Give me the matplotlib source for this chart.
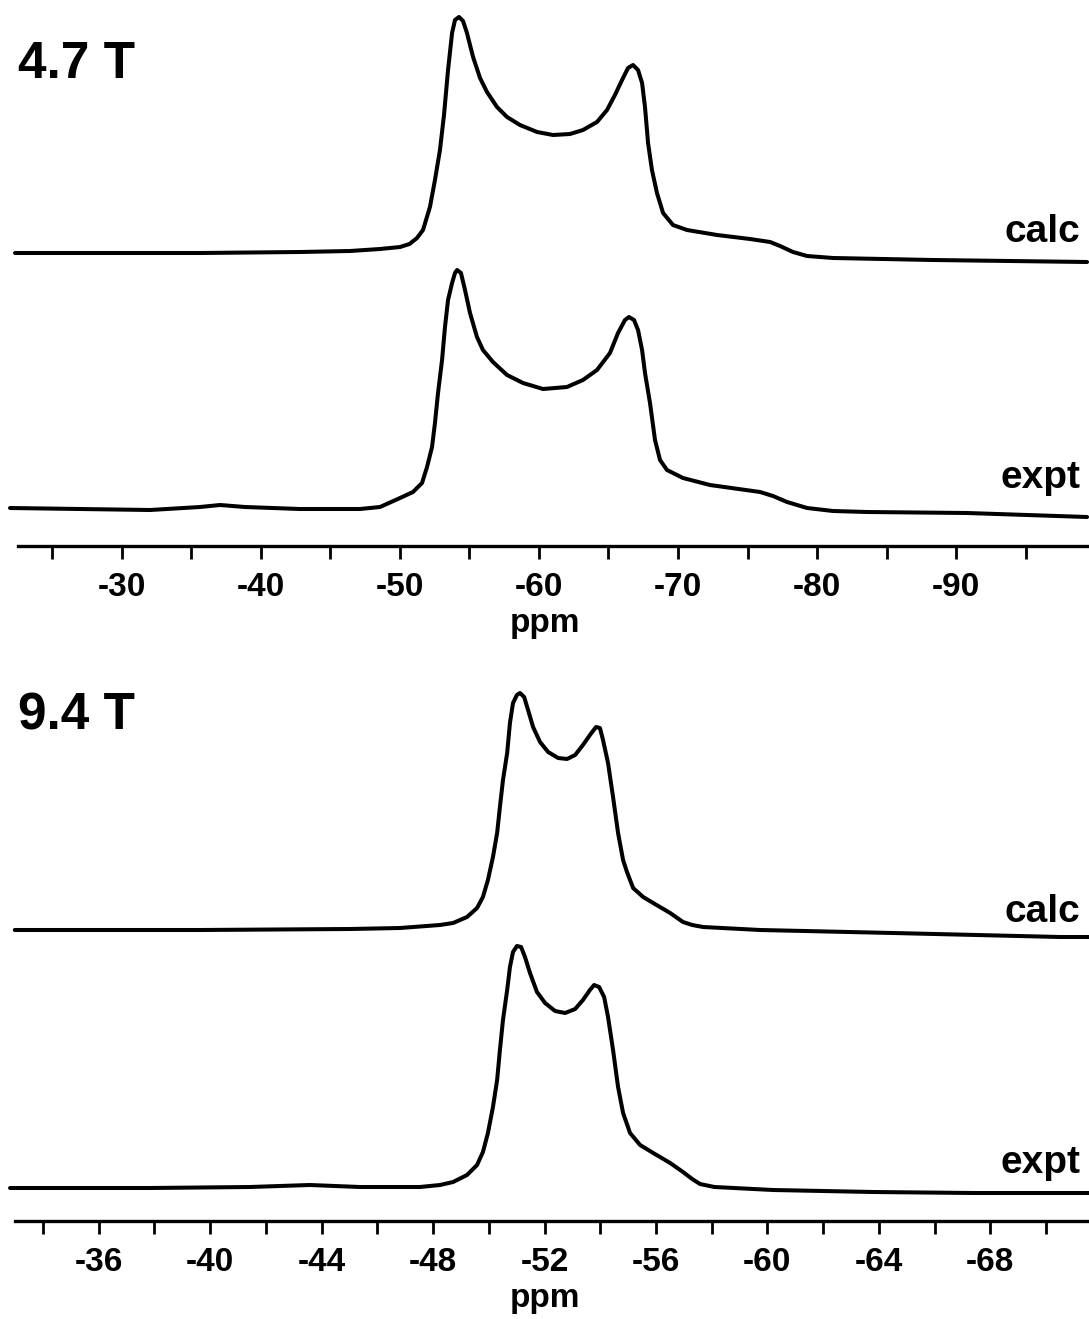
import matplotlib
matplotlib.use("Agg")
import matplotlib.pyplot as plt
import numpy as np

# ---------------- data ----------------
# 4.7 T panel: chemical shift (ppm) and intensity (arbitrary units)
ppm_47_calc = [-22.34, -35.64, -42.83, -46.42, -48.58, -50.02, -50.70, -51.24, -51.67, -52.17,
               -52.53, -52.89, -53.18, -53.47, -53.76, -53.97, -54.26, -54.55, -54.83,
               -55.27, -55.77, -56.27, -56.99, -57.71, -58.64, -59.87, -61.02, -62.24,
               -63.17, -64.18, -64.90, -65.47, -65.98, -66.41, -66.77, -67.13, -67.42,
               -67.63, -67.85, -68.13, -68.49, -68.93, -69.64, -70.65, -72.81, -75.18,
               -76.62, -77.34, -78.27, -79.28, -81.15, -88.34, -99.41]
int_47_calc = [0, 0, 1, 2, 4, 6, 9, 15, 23, 46,
               73, 103, 138, 183, 220, 233, 236, 232, 220,
               196, 175, 161, 146, 136, 128, 121, 118, 119,
               123, 131, 143, 158, 173, 185, 188, 183, 170,
               146, 110, 83, 60, 40, 28, 23, 18, 14,
               11, 7, 1, -3, -5, -7, -9]

ppm_47_expt = [-21.98, -32.05, -35.64, -37.08, -38.87, -42.83, -47.14, -48.58, -50.02,
               -50.95, -51.60, -51.96, -52.32, -52.53, -52.75, -53.04, -53.25, -53.47,
               -53.76, -53.97, -54.12, -54.40, -54.69, -55.05, -55.55, -55.98, -56.70,
               -57.71, -58.86, -60.30, -62.02, -63.17, -64.18, -65.11, -65.69, -66.19,
               -66.48, -66.84, -67.13, -67.42, -67.63, -67.99, -68.35, -68.71, -69.21,
               -70.36, -72.30, -75.90, -76.83, -77.84, -79.28, -81.15, -83.59, -90.78,
               -99.41]
int_47_expt = [0, -2, 1, 3, 1, -1, -1, 1, 10,
               16, 25, 41, 61, 85, 115, 148, 181, 208,
               225, 235, 238, 235, 218, 195, 171, 158, 146,
               133, 125, 119, 121, 128, 138, 155, 175, 188,
               191, 188, 178, 158, 135, 105, 68, 48, 38,
               30, 23, 16, 12, 6, 0, -3, -4, -5,
               -9]

# 9.4 T panel
ppm_94_calc = [-32.99, -39.64, -45.02, -46.81, -48.25, -48.72, -49.22, -49.58, -49.79,
               -49.97, -50.15, -50.30, -50.40, -50.51, -50.66, -50.76, -50.87, -51.01,
               -51.12, -51.27, -51.41, -51.59, -51.84, -52.13, -52.49, -52.81, -53.10,
               -53.38, -53.63, -53.85, -53.99, -54.10, -54.28, -54.46, -54.64, -54.82,
               -54.96, -55.18, -55.54, -55.90, -56.51, -56.97, -57.30, -57.69, -59.74, -64.51,
               -70.50, -71.54]
int_94_calc = [0, 0, 1, 2, 5, 7, 13, 22, 33,
               50, 73, 97, 123, 150, 177, 207, 227, 235,
               237, 233, 220, 203, 188, 178, 172, 171, 175,
               185, 195, 203, 202, 190, 167, 133, 97, 70,
               58, 42, 33, 27, 17, 8, 5, 3, 0, -3,
               -7, -7]

ppm_94_expt = [-32.82, -37.84, -41.43, -43.58, -45.38, -47.53, -48.25, -48.72, -49.22,
               -49.58, -49.79, -49.97, -50.15, -50.30, -50.40, -50.51, -50.66, -50.76,
               -50.87, -51.01, -51.16, -51.30, -51.48, -51.73, -52.02, -52.38, -52.74,
               -53.10, -53.38, -53.63, -53.78, -53.96, -54.14, -54.28, -54.46, -54.64,
               -54.82, -55.07, -55.43, -55.90, -56.51, -56.97, -57.30, -57.58, -58.10,
               -60.20, -63.79, -67.38, -71.54]
int_94_expt = [0, 0, 1, 3, 1, 1, 3, 6, 13,
               23, 36, 55, 81, 108, 138, 168, 198, 221,
               236, 242, 241, 231, 215, 196, 185, 177, 175,
               179, 188, 198, 203, 201, 191, 171, 138, 101,
               75, 55, 43, 35, 25, 16, 9, 4, 1,
               -2, -4, -5, -5]

ticks_47 = [-25, -30, -35, -40, -45, -50, -55, -60, -65, -70, -75, -80, -85, -90, -95]
labels_47 = ["", "-30", "", "-40", "", "-50", "", "-60", "", "-70", "", "-80", "", "-90", ""]
ticks_94 = [-34, -36, -38, -40, -42, -44, -46, -48, -50, -52, -54, -56, -58, -60,
            -62, -64, -66, -68, -70]
labels_94 = ["", "-36", "", "-40", "", "-44", "", "-48", "", "-52", "", "-56", "", "-60",
             "", "-64", "", "-68", ""]

# ---------------- style / layout ----------------
W, H = 1089, 1319
BOLD = ["Liberation Sans", "DejaVu Sans"]
LW = 2.9

fig = plt.figure(figsize=(W / 100, H / 100), dpi=100)
fig.patch.set_facecolor("white")


def panel(axis_px, top_px, xlim, spine_left, ticks, labels, traces, title, title_base):
    ax = fig.add_axes([0, 1 - axis_px / H, 1, (axis_px - top_px) / H])
    ax.set_xlim(*xlim)
    ax.set_ylim(0, axis_px - top_px)
    for s in ["top", "left", "right"]:
        ax.spines[s].set_visible(False)
    ax.spines["bottom"].set_linewidth(2.4)
    ax.spines["bottom"].set_bounds(spine_left, xlim[1])
    ax.set_yticks([])
    ax.set_xticks(ticks)
    ax.set_xticklabels(labels, fontfamily=BOLD, fontweight="bold", fontsize=24)
    ax.tick_params(axis="x", direction="out", length=9, width=2.0, pad=10)
    ax.set_xlabel("ppm", fontfamily=BOLD, fontweight="bold", fontsize=24, labelpad=3)
    for x, y, off, name, base_px in traces:
        ax.plot(x, np.asarray(y) + off, color="black", lw=LW,
                solid_joinstyle="round", solid_capstyle="round")
        fig.text(1080 / W, 1 - base_px / H, name, ha="right", va="baseline",
                 fontfamily=BOLD, fontweight="bold", fontsize=28)
    fig.text(18 / W, 1 - title_base / H, title, ha="left", va="baseline",
             fontfamily=BOLD, fontweight="bold", fontsize=37)
    return ax


panel(546, 0, (-21.26, -99.55), -22.56, ticks_47, labels_47,
      [(ppm_47_calc, int_47_calc, 546 - 253, "calc", 242),
       (ppm_47_expt, int_47_expt, 546 - 508, "expt", 488)],
      "4.7 T", 78)

panel(1221, 660, (-32.46, -71.54), -33.0, ticks_94, labels_94,
      [(ppm_94_calc, int_94_calc, 1221 - 930, "calc", 922),
       (ppm_94_expt, int_94_expt, 1221 - 1188, "expt", 1173)],
      "9.4 T", 730)

fig.savefig("out.png", dpi=100, facecolor="white")
